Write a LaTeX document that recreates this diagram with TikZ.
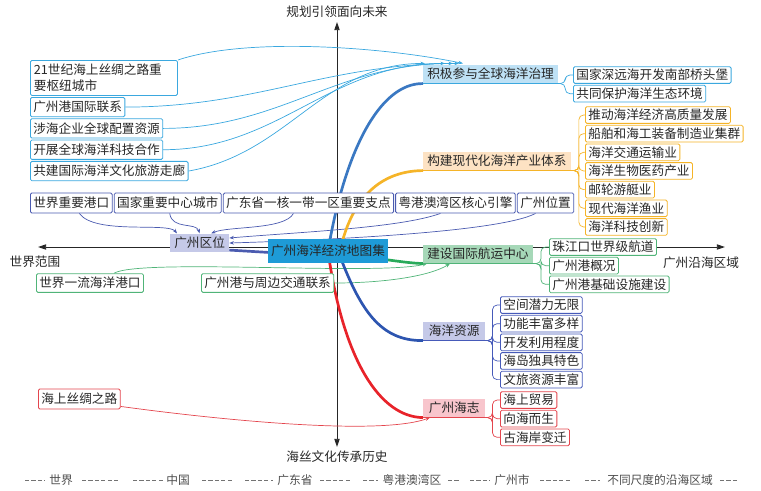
\documentclass[tikz,border=0pt]{standalone}
\usepackage{fontspec}
\setmainfont{Noto Sans CJK SC}
\usetikzlibrary{positioning, arrows.meta, calc, backgrounds}

\definecolor{hubblue}{RGB}{30,155,215}
\definecolor{lavfill}{RGB}{197,201,232}
\definecolor{locline}{RGB}{75,91,176}
\definecolor{govfill}{RGB}{190,225,245}
\definecolor{govline}{RGB}{59,168,223}
\definecolor{govtrunk}{RGB}{58,120,194}
\definecolor{indfill}{RGB}{253,226,195}
\definecolor{indline}{RGB}{245,180,40}
\definecolor{shipfill}{RGB}{166,216,184}
\definecolor{shipline}{RGB}{80,180,120}
\definecolor{shiptrunk}{RGB}{40,170,90}
\definecolor{resline}{RGB}{70,90,185}
\definecolor{restrunk}{RGB}{45,85,176}
\definecolor{zhifill}{RGB}{248,197,204}
\definecolor{zhiline}{RGB}{228,70,78}
\definecolor{zhitrunk}{RGB}{232,35,42}

\begin{document}
\begin{tikzpicture}[
        x=0.03cm, y=-0.03cm,
        every node/.style={font=\fontsize{10.8}{14}\selectfont, text=black!85},
        hub/.style={fill=hubblue, minimum height=0.74cm, inner xsep=2.5pt},
        topic/.style={anchor=west, minimum height=0.56cm, minimum width=1.86cm, inner xsep=3.5pt, inner ysep=1pt},
        leaf/.style={draw, fill=white, rounded corners=1.2pt, line width=0.7pt, anchor=west, minimum height=0.5cm, inner xsep=2.5pt, inner ysep=1pt},
        trunk/.style={line width=2.3pt},
        twig/.style={line width=0.6pt, -{Stealth[length=4pt, width=3pt]}},
        brace/.style={line width=0.6pt, rounded corners=4pt},
        axis/.style={line width=0.8pt, black!85, -{Triangle[length=7pt, width=4.5pt]}},
        legdash/.style={black!55, line width=0.6pt, dash pattern=on 3.5pt off 2pt},
        legend/.style={font=\fontsize{10}{12}\selectfont, text=black!70}
    ]
    \useasboundingbox (0,0) rectangle (761,490);

    % --- axes ---
    \coordinate (o) at (337,247);
    \coordinate (wtip) at (38,247);
    \coordinate (etip) at (725,247);
    \node (north) at (337,12) {规划引领面向未来};
    \node (south) at (337,457) {海丝文化传承历史};
    \node (westlbl) at (35,262) {世界范围};
    \node (eastlbl) at (701,263) {广州沿海区域};

    % --- centre and main topics ---
    \node[hub] (atlas) at (328,251) {广州海洋经济地图集};
    \node[topic, fill=govfill] (gov) at (423,74) {积极参与全球海洋治理};
    \node[topic, fill=indfill] (ind) at (423,161) {构建现代化海洋产业体系};
    \node[topic, fill=shipfill] (ship) at (423,254) {建设国际航运中心};
    \node[topic, fill=lavfill] (res) at (423,331) {海洋资源};
    \node[topic, fill=zhifill] (zhi) at (423,408) {广州海志};
    \node[topic, fill=lavfill, minimum width=0pt] (loc) at (170,243) {广州区位};

    % --- governance ---
    \node[leaf, draw=govline, anchor=north west, minimum height=1.05cm, text width=4.2cm, inner xsep=3pt, align=left] (gb1) at (30,60) {21世纪海上丝绸之路重\\要枢纽城市};
    \node[leaf, draw=govline, minimum height=0.58cm, below=1pt of gb1.south west, anchor=north west] (gb2) {广州港国际联系};
    \node[leaf, draw=govline, minimum height=0.58cm, below=1pt of gb2.south west, anchor=north west] (gb3) {涉海企业全球配置资源};
    \node[leaf, draw=govline, minimum height=0.58cm, below=1pt of gb3.south west, anchor=north west] (gb4) {开展全球海洋科技合作};
    \node[leaf, draw=govline, minimum height=0.58cm, below=1pt of gb4.south west, anchor=north west] (gb5) {共建国际海洋文化旅游走廊};
    \node[leaf, draw=govline] (gov_1) at (573,75) {国家深远海开发南部桥头堡};
    \node[leaf, draw=govline, below=1pt of gov_1.south west, anchor=north west] (gov_2) {共同保护海洋生态环境};

    % --- industry ---
    \node[leaf, draw=indline] (ind_1) at (585,115) {推动海洋经济高质量发展};
    \node[leaf, draw=indline, below=1pt of ind_1.south west, anchor=north west] (ind_2) {船舶和海工装备制造业集群};
    \node[leaf, draw=indline, below=1pt of ind_2.south west, anchor=north west] (ind_3) {海洋交通运输业};
    \node[leaf, draw=indline, below=1pt of ind_3.south west, anchor=north west] (ind_4) {海洋生物医药产业};
    \node[leaf, draw=indline, below=1pt of ind_4.south west, anchor=north west] (ind_5) {邮轮游艇业};
    \node[leaf, draw=indline, below=1pt of ind_5.south west, anchor=north west] (ind_6) {现代海洋渔业};
    \node[leaf, draw=indline, below=1pt of ind_6.south west, anchor=north west] (ind_7) {海洋科技创新};

    % --- location ---
    \node[leaf, draw=locline, minimum height=0.6cm] (lb1) at (30,203) {世界重要港口};
    \node[leaf, draw=locline, minimum height=0.6cm, right=1pt of lb1] (lb2) {国家重要中心城市};
    \node[leaf, draw=locline, minimum height=0.6cm, right=1pt of lb2] (lb3) {广东省一核一带一区重要支点};
    \node[leaf, draw=locline, minimum height=0.6cm, right=1pt of lb3] (lb4) {粤港澳湾区核心引擎};
    \node[leaf, draw=locline, minimum height=0.6cm, right=1pt of lb4] (lb5) {广州位置};

    % --- shipping ---
    \node[leaf, draw=shipline, minimum height=0.56cm] (sb1) at (36,283) {世界一流海洋港口};
    \node[leaf, draw=shipline, minimum height=0.56cm] (sb2) at (201,283) {广州港与周边交通联系};
    \node[leaf, draw=shipline] (ship_1) at (549,247) {珠江口世界级航道};
    \node[leaf, draw=shipline, below=1pt of ship_1.south west, anchor=north west] (ship_2) {广州港概况};
    \node[leaf, draw=shipline, below=1pt of ship_2.south west, anchor=north west] (ship_3) {广州港基础设施建设};

    % --- resources ---
    \node[leaf, draw=resline] (res_1) at (500,305) {空间潜力无限};
    \node[leaf, draw=resline, below=1pt of res_1.south west, anchor=north west] (res_2) {功能丰富多样};
    \node[leaf, draw=resline, below=1pt of res_2.south west, anchor=north west] (res_3) {开发利用程度};
    \node[leaf, draw=resline, below=1pt of res_3.south west, anchor=north west] (res_4) {海岛独具特色};
    \node[leaf, draw=resline, below=1pt of res_4.south west, anchor=north west] (res_5) {文旅资源丰富};

    % --- history ---
    \node[leaf, draw=zhiline, minimum height=0.6cm] (zb0) at (38,399) {海上丝绸之路};
    \node[leaf, draw=zhiline] (zhi_1) at (500,400) {海上贸易};
    \node[leaf, draw=zhiline, below=1pt of zhi_1.south west, anchor=north west] (zhi_2) {向海而生};
    \node[leaf, draw=zhiline, below=1pt of zhi_2.south west, anchor=north west] (zhi_3) {古海岸变迁};

    % --- legend ---
    \node[legend] (lg_world) at (61,480) {世界};
    \node[legend] (lg_china) at (178,480) {中国};
    \node[legend] (lg_gd) at (295,480) {广东省};
    \node[legend] (lg_gba) at (412,480) {粤港澳湾区};
    \node[legend] (lg_gz) at (512,480) {广州市};
    \node[legend] (lg_coast) at (660,480) {不同尺度的沿海区域};
    \foreach \a/\b in {25/45, 82/120, 133/163, 202/232, 245/273, 320/350, 363/378, 448/460, 470/490, 540/570, 585/600, 720/738}
        \draw[legdash] (\a,480) -- (\b,480);

    \begin{scope}[on background layer]
        \draw[axis] (o) -- (north.south);
        \draw[axis] (o) -- (south.north);
        \draw[axis] (o) -- (wtip);
        \draw[axis] (o) -- (etip);

        % thin links into the topics
        \draw[twig, govline] (gb1.north east) .. controls (250,36) and (390,48) .. ($(gov.north west)+(40,-1)$);
        \draw[twig, govline] (gb2.east) to[out=0, in=180] ($(gov.north west)+(36,-1)$);
        \draw[twig, govline] (gb3.east) to[out=0, in=180] ($(gov.north west)+(30,-1)$);
        \draw[twig, govline] (gb4.east) to[out=0, in=180] ($(gov.north west)+(22,-1)$);
        \draw[twig, govline] (gb5.east) to[out=10, in=180] ($(gov.north west)+(2,-1)$);

        \draw[twig, locline] ($(lb1.south)+(8,0)$) .. controls (95,235) and (168,222) .. ($(loc.north west)+(7,0)$);
        \draw[twig, locline] ($(lb2.south)+(2,0)$) .. controls (172,230) and (196,222) .. (loc.north);
        \draw[twig, locline] ($(lb3.south)+(-15,0)$) .. controls (285,230) and (228,226) .. ($(loc.north east)+(-18,0)$);
        \draw[twig, locline] ($(lb4.south)+(-15,0)$) .. controls (400,228) and (300,232) .. ($(loc.east)+(0,-5)$);
        \draw[twig, locline] ($(lb5.south)+(-10,0)$) .. controls (500,232) and (330,240) .. (loc.east);

        \draw[twig, shipline] ($(sb1.north east)+(-30,0)$) .. controls (140,258) and (380,276) .. ($(ship.south west)+(4,0)$);
        \draw[twig, shipline] (sb2.east) .. controls (385,283) and (430,276) .. ($(ship.south west)+(27,0)$);

        \draw[twig, zhiline] ($(zb0.south east)+(0,-3)$) .. controls (220,420) and (380,436) .. ($(zhi.south west)+(7,0)$);

        % main branches
        \draw[trunk, govtrunk] (atlas.center) .. controls (345,150) and (380,83) .. (gov.south west);
        \draw[trunk, indline] ($(atlas.center)+(12,0)$) .. controls (350,205) and (375,171) .. (ind.south west);
        \draw[trunk, shiptrunk] (atlas.center) .. controls (400,262) and (410,263) .. (ship.south west);
        \draw[trunk, restrunk] ($(atlas.center)+(10,0)$) .. controls (360,310) and (380,341) .. (res.south west);
        \draw[trunk, zhitrunk] (atlas.center) .. controls (343,360) and (380,417) .. (zhi.south west);
        \draw[trunk, locline] ($(atlas.center)+(0,5)$) -- ($(loc.south east)+(0,-2.5)$);

        % brackets to the leaves
        \draw[line width=0.6pt, govline] (gov.south west) -- (gov.south east);
        \foreach \k in {gov_1, gov_2}
            \draw[brace, govline] (gov.south east) -- ++(7,0) |- (\k.west);
        \draw[line width=0.6pt, indline] (ind.south west) -- (ind.south east);
        \foreach \k in {ind_1, ind_2, ind_3, ind_4, ind_5, ind_6, ind_7}
            \draw[brace, indline] (ind.south east) -- ++(8,0) |- (\k.west);
        \draw[line width=0.6pt, shipline] (ship.south west) -- (ship.south east);
        \foreach \k in {ship_1, ship_2, ship_3}
            \draw[brace, shipline] (ship.south east) -- ++(8,0) |- (\k.west);
        \draw[line width=0.6pt, resline] (res.south west) -- (res.south east);
        \foreach \k in {res_1, res_2, res_3, res_4, res_5}
            \draw[brace, resline] (res.south east) -- ++(7,0) |- (\k.west);
        \draw[line width=0.6pt, zhiline] (zhi.south west) -- (zhi.south east);
        \foreach \k in {zhi_1, zhi_2, zhi_3}
            \draw[brace, zhiline] (zhi.south east) -- ++(7,0) |- (\k.west);
    \end{scope}
\end{tikzpicture}
\end{document}
